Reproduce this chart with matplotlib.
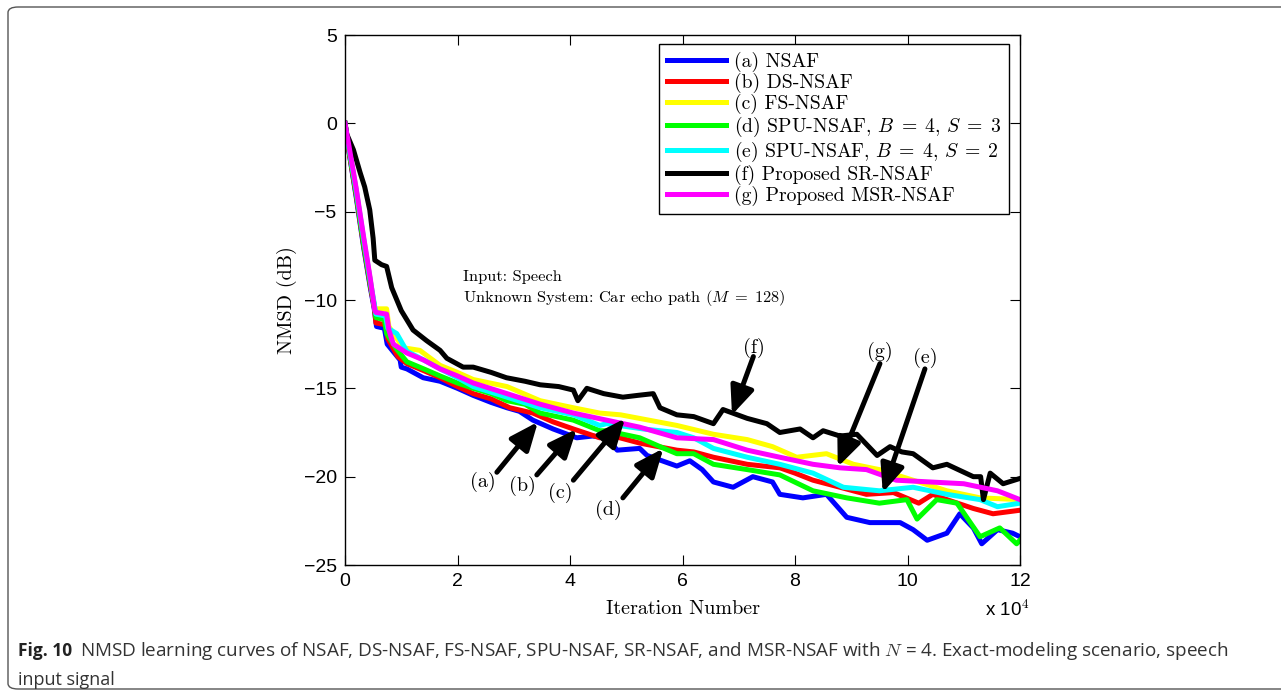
import matplotlib
matplotlib.use("Agg")
import matplotlib.pyplot as plt
from matplotlib.patches import FancyBboxPatch

plt.rcParams["mathtext.fontset"] = "cm"
plt.rcParams["axes.unicode_minus"] = True

# ---- data (iterations in units of 1e4, NMSD in dB) ----
x_a = [0, 0.05, 0.2, 0.33, 0.45, 0.52, 0.56, 0.7, 0.75, 0.98, 1.0, 1.1, 1.39, 1.69, 2.0, 2.28, 2.6, 2.88, 3.1,
       3.34, 3.7, 4.12, 4.4, 4.65, 4.84, 5.24, 5.37, 5.9, 6.13, 6.35, 6.55, 6.9, 7.25, 7.6, 7.73, 8.14, 8.56,
       8.92, 9.33, 9.87, 10.1, 10.35, 10.7, 10.93, 11.17, 11.32, 11.6, 11.87, 12.0]
nmsd_a = [0, -1.2, -4.2, -7.0, -9.3, -10.5, -11.5, -11.6, -12.5, -13.4, -13.8, -13.9, -14.4, -14.6, -15.0, -15.4,
          -15.8, -16.1, -16.3, -16.8, -17.3, -17.8, -17.7, -17.8, -18.5, -18.4, -18.8, -19.4, -19.1, -19.6, -20.3,
          -20.6, -20.0, -20.3, -21.0, -21.2, -21.0, -22.3, -22.6, -22.6, -23.0, -23.6, -23.2, -22.1, -22.9, -23.8,
          -23.0, -23.2, -23.4]

x_b = [0, 0.05, 0.2, 0.33, 0.45, 0.52, 0.55, 0.72, 0.76, 0.94, 1.1, 1.4, 1.69, 2.0, 2.28, 2.6, 2.93, 3.34, 3.7,
       4.06, 4.53, 4.65, 5.24, 5.9, 6.2, 6.55, 7.15, 7.73, 8.0, 8.32, 8.8, 9.27, 9.75, 10.2, 10.45, 10.7, 11.17,
       11.52, 12.0]
nmsd_b = [0, -1.2, -4.1, -6.9, -9.2, -10.4, -11.3, -11.4, -12.2, -13.2, -13.6, -14.0, -14.4, -14.9, -15.3, -15.6,
          -16.1, -16.4, -16.9, -17.3, -17.8, -17.6, -18.1, -18.5, -18.6, -18.9, -19.3, -19.5, -19.8, -20.2, -20.6,
          -21.0, -20.9, -21.5, -21.0, -21.3, -21.8, -22.1, -21.9]

x_c = [0, 0.05, 0.2, 0.33, 0.45, 0.53, 0.55, 0.74, 0.78, 1.03, 1.33, 1.69, 2.0, 2.28, 2.88, 3.47, 4.06, 4.53, 4.9,
       5.9, 6.55, 7.15, 7.6, 8.03, 8.56, 9.04, 9.5, 10.1, 10.7, 11.29, 12.0]
nmsd_c = [0, -1.0, -3.8, -6.6, -8.9, -10.5, -10.5, -10.5, -11.5, -12.7, -12.85, -13.7, -14.1, -14.5, -14.9, -15.7,
          -16.1, -16.4, -16.5, -17.1, -17.6, -17.9, -18.3, -18.9, -18.7, -19.3, -19.6, -20.2, -20.8, -21.2, -21.3]

x_d = [0, 0.05, 0.2, 0.33, 0.45, 0.52, 0.55, 0.7, 0.74, 0.92, 1.1, 1.4, 1.69, 2.0, 2.28, 2.6, 2.88, 3.2, 3.47,
       4.06, 4.53, 4.65, 5.24, 5.6, 5.9, 6.2, 6.55, 7.15, 7.73, 8.32, 8.92, 9.5, 9.99, 10.17, 10.52, 10.88,
       11.29, 11.64, 11.94, 12.0]
nmsd_d = [0, -1.1, -4.0, -6.8, -9.1, -10.3, -11.0, -11.1, -11.9, -12.8, -13.5, -13.9, -14.3, -14.7, -15.0, -15.3,
          -15.7, -15.9, -16.4, -16.8, -17.4, -17.4, -17.8, -18.3, -18.7, -18.7, -19.3, -19.6, -19.9, -20.8, -21.2,
          -21.5, -21.3, -22.4, -21.3, -21.5, -23.4, -22.9, -23.8, -23.6]

x_e = [0, 0.05, 0.2, 0.33, 0.45, 0.52, 0.55, 0.72, 0.76, 0.92, 1.1, 1.4, 1.69, 2.0, 2.28, 2.88, 3.47, 4.06, 4.53,
       4.65, 5.3, 5.9, 6.2, 6.55, 7.15, 7.73, 8.32, 8.86, 9.5, 10.1, 10.7, 11.29, 11.6, 12.0]
nmsd_e = [0, -1.0, -3.8, -6.5, -8.9, -10.2, -10.8, -10.9, -11.6, -11.9, -12.9, -13.4, -13.9, -14.4, -14.9, -15.5,
          -16.1, -16.5, -17.1, -17.0, -17.3, -17.5, -17.8, -18.4, -18.9, -19.3, -19.8, -20.6, -20.8, -20.6, -21.0,
          -21.3, -21.7, -21.5]

x_f = [0, 0.03, 0.15, 0.27, 0.35, 0.44, 0.5, 0.53, 0.65, 0.74, 0.83, 1.0, 1.21, 1.45, 1.69, 1.81, 2.1, 2.28, 2.6,
       2.87, 3.2, 3.47, 3.8, 4.06, 4.14, 4.3, 4.6, 4.94, 5.2, 5.48, 5.6, 5.9, 6.2, 6.55, 6.72, 7.15, 7.5, 7.73,
       8.09, 8.32, 8.5, 8.8, 9.1, 9.46, 9.69, 9.9, 10.1, 10.45, 10.7, 11.17, 11.3, 11.35, 11.47, 11.7, 12.0]
nmsd_f = [0, -0.6, -1.5, -2.8, -3.6, -4.9, -6.5, -7.75, -8.0, -8.1, -9.3, -10.6, -11.7, -12.3, -12.85, -13.3,
          -13.8, -13.8, -14.1, -14.4, -14.6, -14.8, -14.9, -15.1, -15.7, -15.0, -15.3, -15.5, -15.4, -15.3, -16.1,
          -16.5, -16.6, -17.0, -16.2, -16.7, -17.0, -17.5, -17.3, -17.8, -17.4, -17.7, -17.6, -18.8, -18.3, -18.6,
          -18.7, -19.5, -19.3, -20.0, -20.0, -21.3, -19.8, -20.4, -20.1]

x_g = [0, 0.05, 0.2, 0.33, 0.45, 0.53, 0.55, 0.74, 0.78, 0.86, 1.1, 1.4, 1.69, 2.0, 2.28, 2.88, 3.47, 4.06, 4.65,
       5.24, 5.9, 6.55, 7.15, 7.73, 8.32, 8.8, 9.27, 9.8, 10.4, 11.0, 11.6, 12.0]
nmsd_g = [0, -0.9, -3.7, -6.4, -8.8, -10.6, -10.7, -10.8, -11.7, -12.5, -13.0, -13.4, -13.9, -14.3, -14.7, -15.3,
          -15.9, -16.4, -16.8, -17.2, -17.8, -17.9, -18.5, -18.9, -19.3, -19.5, -19.6, -20.2, -20.3, -20.4, -20.8,
          -21.3]

labels = ["(a) NSAF", "(b) DS-NSAF", "(c) FS-NSAF",
          "(d) SPU-NSAF, $B\\;=\\;4,\\,S\\;=\\;3$", "(e) SPU-NSAF, $B\\;=\\;4,\\,S\\;=\\;2$",
          "(f) Proposed SR-NSAF", "(g) Proposed MSR-NSAF"]
colors = ["#0000ff", "#ff0000", "#ffff00", "#00ff00", "#00ffff", "#000000", "#ff00ff"]
series = [(x_a, nmsd_a), (x_b, nmsd_b), (x_c, nmsd_c), (x_d, nmsd_d),
          (x_e, nmsd_e), (x_f, nmsd_f), (x_g, nmsd_g)]

# arrow annotations: tag, arrow tip, arrow tail, tag position
tags = ["(a)", "(b)", "(c)", "(d)", "(f)", "(g)", "(e)"]
tips = [(3.43, -16.9), (4.12, -17.3), (4.98, -16.7), (5.66, -18.4), (6.88, -16.5), (8.76, -19.45), (9.56, -20.9)]
tails = [(2.70, -19.75), (3.41, -19.9), (4.06, -20.2), (4.94, -21.2), (7.26, -13.2), (9.51, -13.6), (10.31, -13.9)]
tag_pos = [(2.45, -20.3), (3.15, -20.5), (3.82, -20.9), (4.68, -21.9), (7.27, -12.7), (9.51, -12.95), (10.31, -13.3)]

# ---- figure ----
fig = plt.figure(figsize=(12.81, 6.95), dpi=100)
frame = FancyBboxPatch((8 / 1281, 6 / 695), 1290 / 1281, 682 / 695,
                       boxstyle="round,pad=0,rounding_size=0.008",
                       transform=fig.transFigure, facecolor="none",
                       edgecolor="#555555", lw=1.0, clip_on=False)
fig.patches.append(frame)

ax = fig.add_axes([345 / 1281, 1 - 565 / 695, 675 / 1281, 530 / 695])
for (xs, ys), c, lab in zip(series, colors, labels):
    ax.plot(xs, ys, color=c, lw=3.6, label=lab, solid_joinstyle="round")

ax.set_xlim(0, 12)
ax.set_ylim(-25, 5)
ax.set_xticks(range(0, 13, 2))
ax.set_yticks(range(-25, 6, 5))
ax.tick_params(direction="in", length=7, width=0.8, top=True, right=True,
               labelsize=14, pad=6)
for lab in ax.get_xticklabels() + ax.get_yticklabels():
    lab.set_fontfamily("Liberation Sans")
for s in ax.spines.values():
    s.set_linewidth(1.0)

ax.set_xlabel("Iteration Number", fontfamily="cmr10", fontsize=14.5, labelpad=7)
ax.set_ylabel("NMSD (dB)", fontfamily="cmr10", fontsize=14.5, labelpad=5)
fig.text(985 / 1281, 1 - 610 / 695, "x 10$^{4}$", fontfamily="Liberation Sans",
         fontsize=13.5, ha="left", va="center")

ax.text(2.1, -8.7, "Input: Speech", fontfamily="cmr10", fontsize=11.8, va="center")
ax.text(2.1, -9.9, "Unknown System: Car echo path ($M\\;=\\;128$)", fontfamily="cmr10",
        fontsize=11.8, va="center")

for t, tip, tail, pos in zip(tags, tips, tails, tag_pos):
    ax.annotate("", xy=tip, xytext=tail,
                arrowprops=dict(arrowstyle="-|>,head_length=0.85,head_width=0.36",
                                mutation_scale=20, lw=3.6, color="k",
                                shrinkA=0, shrinkB=0))
    ax.text(pos[0], pos[1], t, fontfamily="cmr10", fontsize=14.5, ha="center", va="center")

leg = ax.legend(loc="upper right", bbox_to_anchor=(0.9837, 0.983),
                prop={"family": "cmr10", "size": 14.2}, handlelength=3.0,
                handletextpad=0.4, labelspacing=0.04, borderpad=0.4,
                borderaxespad=0.0, fancybox=False, framealpha=1, edgecolor="k")
leg.get_frame().set_linewidth(1.0)

fig.text(18 / 1281, 1 - 651 / 695, "Fig. 10", fontfamily="Open Sans", fontweight="bold",
         fontsize=12.5, color="#222222", va="center")
fig.text(80 / 1281, 1 - 651 / 695,
         "NMSD learning curves of NSAF, DS-NSAF, FS-NSAF, SPU-NSAF, SR-NSAF, and MSR-NSAF with $\\it{N}$ = 4. "
         "Exact-modeling scenario, speech", fontfamily="Open Sans", fontsize=13.6, color="#333333",
         va="center")
fig.text(18 / 1281, 1 - 680 / 695, "input signal", fontfamily="Open Sans", fontsize=13.0,
         color="#333333", va="center")

fig.savefig("out.png", dpi=100)
